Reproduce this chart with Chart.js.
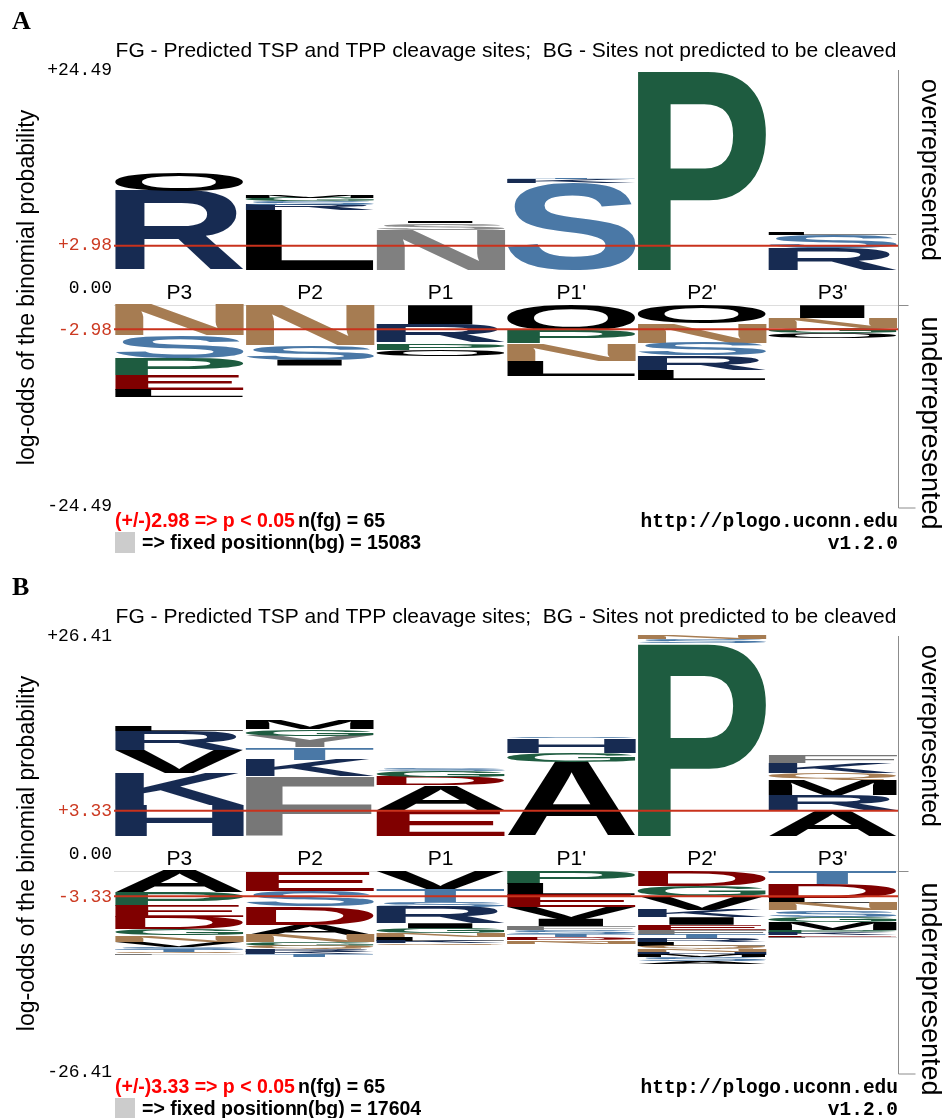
<!DOCTYPE html>
<html>
<head>
<meta charset="utf-8">
<script src="https://cdn.jsdelivr.net/npm/chart.js@4.4.1/dist/chart.umd.min.js"></script>
<style>
  html, body { margin: 0; padding: 0; background: #ffffff; }
  body { width: 946px; height: 1118px; position: relative; overflow: hidden; }
  canvas { position: absolute; left: 0; display: block; }
  #logoA { top: 0; }
  #logoB { top: 566px; }
</style>
</head>
<body>
<canvas id="logoA" width="946" height="560"></canvas>
<canvas id="logoB" width="946" height="552"></canvas>
<script>
// Residue positions around the cleavage site
const positions = ['P3', 'P2', 'P1', "P1'", "P2'", "P3'"];
const titleText = 'FG - Predicted TSP and TPP cleavage sites;  BG - Sites not predicted to be cleaved';

// ---- Logo A (n(bg) = 15083) ----
const aLimit = 24.49;
const aThreshold = 2.98;
const aFgCount = 65;
const aBgCount = 15083;
const aTicks = [24.49, 2.98, 0, -2.98, -24.49];
const aOverLetters = [['R', 'O'], ['L', 'R', 'S', 'G', 'M'], ['N', 'S', 'I'], ['S', 'K', 'T'], ['P'], ['R', 'S', 'L']];
const aOverValues = [[9.7, 2.3], [7.3, 0.7, 0.4, 0.4, 0.3], [4.9, 0.85, 0.25], [10.6, 0.5, 0.2], [24.49], [2.7, 1.6, 0.3]];
const aUnderLetters = [['N', 'S', 'P', 'E', 'L'], ['N', 'S', 'I'], ['I', 'R', 'P', 'O'], ['O', 'P', 'N', 'L'], ['O', 'N', 'S', 'R', 'L'], ['I', 'N', 'G', 'O']];
const aUnderValues = [[-3.7, -2.8, -2.1, -1.8, -0.85], [-4.9, -1.8, -0.7], [-2.4, -2.2, -0.85, -0.8], [-3.2, -1.5, -2.1, -1.9], [-2.2, -2.4, -1.6, -1.8, -1.2], [-1.6, -1.2, -0.6, -0.7]];

// ---- Logo B (n(bg) = 17604) ----
const bLimit = 26.41;
const bThreshold = 3.33;
const bFgCount = 65;
const bBgCount = 17604;
const bTicks = [26.41, 3.33, 0, -3.33, -26.41];
const bOverLetters = [['H', 'K', 'V', 'R', 'L'], ['F', 'K', 'T', 'Y', 'G', 'M'], ['E', 'A', 'D', 'G', 'S'], ['A', 'G', 'H', 'S'], ['P', 'S', 'N'], ['A', 'R', 'M', 'Q', 'K', 'F']];
const bOverValues = [[4.1, 4.2, 3.0, 2.5, 0.6], [7.9, 2.2, 1.6, 1.5, 0.9, 1.2], [3.4, 3.3, 1.1, 0.8, 0.3], [9.8, 1.2, 1.9, 0.2], [25.5, 0.5, 0.41], [3.4, 2.0, 2.0, 0.9, 1.3, 1.0]];
const bUnderLetters = [
  ['A', 'P', 'E', 'D', 'G', 'N', 'V', 'S', 'T', 'Q', 'F'],
  ['E', 'S', 'D', 'A', 'N', 'G', 'Q', 'R', 'K', 'T'],
  ['V', 'T', 'S', 'R', 'I', 'G', 'N', 'L', 'K', 'Q'],
  ['P', 'L', 'E', 'V', 'I', 'F', 'S', 'T', 'D', 'Q', 'N'],
  ['D', 'G', 'V', 'K', 'I', 'E', 'F', 'T', 'R', 'L', 'Q', 'N', 'H', 'M', 'S', 'A'],
  ['T', 'D', 'L', 'N', 'S', 'G', 'M', 'P', 'K', 'E', 'F']
];
const bUnderValues = [
  [-2.8, -1.8, -1.5, -1.6, -0.8, -0.9, -0.7, -0.3, -0.25, -0.2, -0.2],
  [-2.6, -2.1, -2.4, -1.3, -1.0, -0.5, -0.4, -0.4, -0.3, -0.3],
  [-2.4, -1.7, -0.6, -2.2, -0.7, -0.6, -0.5, -0.5, -0.3, -0.3],
  [-1.7, -1.5, -1.6, -1.5, -1.0, -0.5, -0.5, -0.4, -0.4, -0.3, -0.3],
  [-2.0, -1.3, -1.8, -1.0, -1.0, -0.7, -0.6, -0.5, -0.5, -0.5, -0.4, -0.4, -0.4, -0.3, -0.5, -0.4],
  [-1.7, -1.8, -0.7, -1.0, -0.9, -0.7, -1.0, -0.4, -0.3, -0.2, -0.2]
];

// Residue colouring
const residueColors = {
  A: '#000000', V: '#000000', L: '#000000', I: '#000000', M: '#000000', C: '#000000', W: '#000000', O: '#000000',
  F: '#777777', Y: '#777777',
  R: '#172b52', K: '#172b52', H: '#172b52',
  S: '#4a78a6', T: '#4a78a6',
  N: '#a67c52', Q: '#a67c52',
  D: '#800000', E: '#800000',
  P: '#1e5c40', G: '#1e5c40'
};
// column:residue pairs shown in neutral grey
const aGreyOver = { '2:N': '#808080', '2:S': '#8c8c8c' };

const GLYPH_FONT = 'bold 200px "Liberation Sans", Arial, sans-serif';
const glyphCache = {};
function glyphBox(ctx, ch) {
  if (!glyphCache[ch]) {
    ctx.save();
    ctx.font = GLYPH_FONT;
    const m = ctx.measureText(ch);
    glyphCache[ch] = { l: m.actualBoundingBoxLeft, r: m.actualBoundingBoxRight, a: m.actualBoundingBoxAscent, d: m.actualBoundingBoxDescent };
    ctx.restore();
  }
  return glyphCache[ch];
}

// Stretch a glyph so that its ink fills the given box
function drawGlyph(ctx, ch, color, left, top, w, h) {
  const g = glyphBox(ctx, ch);
  const gw = g.l + g.r, gh = g.a + g.d;
  const frac = ch === 'I' ? 0.52 : 1;
  ctx.save();
  ctx.translate(left + w * (1 - frac) / 2, top);
  ctx.scale(w * frac / gw, h / gh);
  ctx.font = GLYPH_FONT;
  ctx.fillStyle = color;
  ctx.textAlign = 'left';
  ctx.textBaseline = 'alphabetic';
  ctx.fillText(ch, g.l, g.a);
  ctx.restore();
}

function fmtTick(v) {
  if (v === 0) return '0.00';
  return (v > 0 ? '+' : '-') + Math.abs(v).toFixed(2);
}

function buildLayers(letters, values, axisId, greys) {
  const depth = Math.max(...letters.map(l => l.length));
  const sets = [];
  for (let k = 0; k < depth; k++) {
    sets.push({
      label: axisId + ' ' + k,
      yAxisID: axisId,
      stack: 'logo',
      data: values.map(v => (v[k] === undefined ? null : v[k])),
      residues: letters.map(l => l[k] || ''),
      greys: greys || {},
      backgroundColor: 'rgba(0,0,0,0)',
      borderWidth: 0,
      barPercentage: 1,
      categoryPercentage: 0.985
    });
  }
  return sets;
}

function makeLogo(canvasId, cfg) {
  const canvas = document.getElementById(canvasId);
  const T = 70;
  const plotBottom = T + 435;

  const decor = {
    id: 'logoDecor',
    beforeDatasetsDraw(chart) {
      const ctx = chart.ctx, a = chart.chartArea, yN = chart.scales.yNeg;
      ctx.save();
      ctx.strokeStyle = '#dddddd';
      ctx.lineWidth = 1;
      ctx.beginPath();
      ctx.moveTo(a.left, Math.round(yN.getPixelForValue(0)) + 0.5);
      ctx.lineTo(a.right, Math.round(yN.getPixelForValue(0)) + 0.5);
      ctx.stroke();
      ctx.restore();
    },
    afterDatasetsDraw(chart) {
      const ctx = chart.ctx, a = chart.chartArea;
      chart.data.datasets.forEach((ds, di) => {
        const meta = chart.getDatasetMeta(di);
        meta.data.forEach((el, i) => {
          const ch = ds.residues[i];
          if (!ch) return;
          const p = el.getProps(['x', 'y', 'base', 'width'], true);
          if (!isFinite(p.y) || !isFinite(p.base)) return;
          const top = Math.min(p.y, p.base), h = Math.abs(p.base - p.y);
          if (h <= 0) return;
          const color = ds.greys[i + ':' + ch] || residueColors[ch] || '#000';
          drawGlyph(ctx, ch, color, p.x - p.width / 2, top, p.width, h);
        });
      });
      // significance threshold lines
      ctx.save();
      ctx.strokeStyle = '#c9321c';
      ctx.lineWidth = 2;
      [chart.scales.yPos.getPixelForValue(cfg.threshold), chart.scales.yNeg.getPixelForValue(-cfg.threshold)].forEach(y => {
        ctx.beginPath();
        ctx.moveTo(a.left, y);
        ctx.lineTo(a.right, y);
        ctx.stroke();
      });
      ctx.restore();
    },
    afterDraw(chart) {
      const ctx = chart.ctx, a = chart.chartArea;
      const yP = chart.scales.yPos, yG = chart.scales.yGap, yN = chart.scales.yNeg, x = chart.scales.x;
      ctx.save();

      // panel tag
      ctx.fillStyle = '#000';
      ctx.font = 'bold 26px "Liberation Serif", "Times New Roman", serif';
      ctx.textAlign = 'left';
      ctx.textBaseline = 'alphabetic';
      ctx.fillText(cfg.tag, 12, 29);

      // title
      ctx.font = '21px "Liberation Sans", Arial, sans-serif';
      ctx.textAlign = 'center';
      ctx.fillText(titleText, (a.left + a.right) / 2, a.top - 13);

      // value labels on the left
      ctx.font = '18px "Liberation Mono", "DejaVu Sans Mono", monospace';
      ctx.textAlign = 'right';
      ctx.textBaseline = 'middle';
      cfg.ticks.forEach(v => {
        let y;
        if (v > 0) y = yP.getPixelForValue(v);
        else if (v < 0) y = yN.getPixelForValue(v) + 1;
        else y = (yG.top + yG.bottom) / 2 + 1;
        ctx.fillStyle = Math.abs(v) === cfg.threshold ? '#cc3a22' : '#000';
        ctx.fillText(fmtTick(v), a.left - 2, y);
      });

      // position labels
      ctx.fillStyle = '#000';
      ctx.font = '21px "Liberation Sans", Arial, sans-serif';
      ctx.textAlign = 'center';
      ctx.textBaseline = 'alphabetic';
      positions.forEach((lab, i) => ctx.fillText(lab, x.getPixelForValue(i), yG.bottom - 6));

      // axis title
      ctx.save();
      ctx.translate(34, (a.top + a.bottom) / 2);
      ctx.rotate(-Math.PI / 2);
      ctx.font = '23px "Liberation Sans", Arial, sans-serif';
      ctx.textAlign = 'center';
      ctx.fillText('log-odds of the binomial probability', 0, 0);
      ctx.restore();

      // right-hand bracket
      ctx.strokeStyle = '#8c8c8c';
      ctx.lineWidth = 1;
      const bx = Math.round(a.right) + 0.5;
      ctx.beginPath();
      ctx.moveTo(bx, a.top);
      ctx.lineTo(bx, a.bottom + 3);
      ctx.lineTo(bx + 17, a.bottom + 3);
      ctx.moveTo(bx, Math.round(yN.top) + 0.5);
      ctx.lineTo(bx + 10, Math.round(yN.top) + 0.5);
      ctx.stroke();

      ctx.textAlign = 'center';
      ctx.font = '25px "Liberation Sans", Arial, sans-serif';
      ctx.save();
      ctx.translate(a.right + 24, (yP.top + yP.bottom) / 2);
      ctx.rotate(Math.PI / 2);
      ctx.fillText('overrepresented', 0, 0);
      ctx.restore();
      ctx.font = '27px "Liberation Sans", Arial, sans-serif';
      ctx.save();
      ctx.translate(a.right + 24, (yN.top + yN.bottom) / 2 + 18);
      ctx.rotate(Math.PI / 2);
      ctx.fillText('underrepresented', 0, 0);
      ctx.restore();

      // footer
      const l1 = a.bottom + 22, l2 = a.bottom + 44;
      ctx.textAlign = 'left';
      ctx.font = 'bold 19.5px "Liberation Sans", Arial, sans-serif';
      ctx.fillStyle = '#ff0000';
      ctx.fillText('(+/-)' + cfg.threshold.toFixed(2) + ' => p < 0.05', a.left + 1, l1);
      ctx.fillStyle = '#000';
      ctx.fillText('n(fg) = ' + cfg.fg, a.left + 184, l1);
      ctx.fillStyle = '#cccccc';
      ctx.fillRect(a.left + 1, a.bottom + 27, 20, 21);
      ctx.fillStyle = '#000';
      ctx.fillText('=> fixed position', a.left + 28, l2);
      ctx.fillText('n(bg) = ' + cfg.bg, a.left + 182, l2);
      ctx.textAlign = 'right';
      ctx.font = 'bold 19.5px "Liberation Mono", "DejaVu Sans Mono", monospace';
      ctx.fillText('http://plogo.uconn.edu', a.right, l1);
      ctx.fillText('v1.2.0', a.right, l2);

      ctx.restore();
    }
  };

  return new Chart(canvas, {
    type: 'bar',
    data: {
      labels: positions,
      datasets: buildLayers(cfg.overLetters, cfg.overValues, 'yPos', cfg.greys)
        .concat(buildLayers(cfg.underLetters, cfg.underValues, 'yNeg'))
    },
    options: {
      responsive: false,
      animation: false,
      events: [],
      layout: { padding: { left: 114, right: 48, top: T, bottom: canvas.height - plotBottom } },
      plugins: { legend: { display: false }, tooltip: { enabled: false } },
      scales: {
        x: { type: 'category', stacked: true, offset: true, display: false },
        yPos: { axis: 'y', type: 'linear', position: 'left', stack: 'logo', stackWeight: 200, weight: 3,
                stacked: true, min: 0, max: cfg.limit, display: false },
        yGap: { axis: 'y', type: 'linear', position: 'left', stack: 'logo', stackWeight: 35, weight: 2,
                min: 0, max: 1, display: false },
        yNeg: { axis: 'y', type: 'linear', position: 'left', stack: 'logo', stackWeight: 200, weight: 1,
                stacked: true, min: -cfg.limit, max: 0, display: false }
      }
    },
    plugins: [decor]
  });
}

makeLogo('logoA', {
  tag: 'A', limit: aLimit, threshold: aThreshold, fg: aFgCount, bg: aBgCount, ticks: aTicks,
  overLetters: aOverLetters, overValues: aOverValues, underLetters: aUnderLetters, underValues: aUnderValues,
  greys: aGreyOver
});
makeLogo('logoB', {
  tag: 'B', limit: bLimit, threshold: bThreshold, fg: bFgCount, bg: bBgCount, ticks: bTicks,
  overLetters: bOverLetters, overValues: bOverValues, underLetters: bUnderLetters, underValues: bUnderValues
});
</script>
</body>
</html>
